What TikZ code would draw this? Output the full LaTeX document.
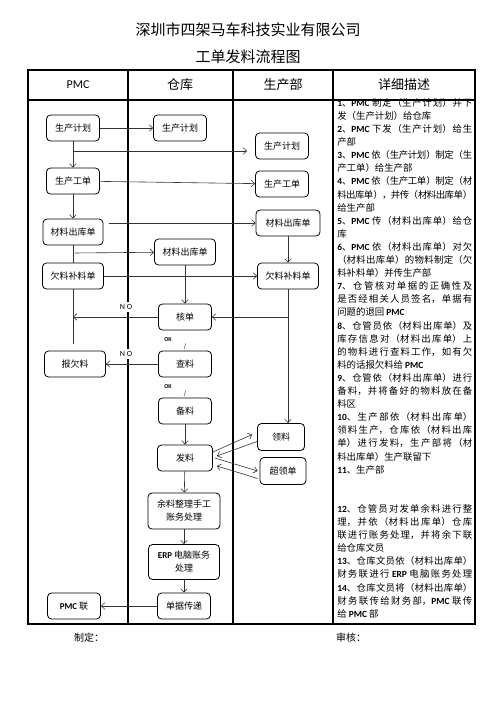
\documentclass[tikz,border=0pt]{standalone}
\usepackage{fontspec}
\setmainfont{Noto Sans CJK SC}
\newfontfamily\enf{Carlito}
\usetikzlibrary{arrows.meta}
\usetikzlibrary{calc,positioning}
% glue between Chinese characters, so that full lines can be justified
\newcount\cjkc
\cjkc="4E00
\loop
  \XeTeXcharclass\cjkc=7
  \advance\cjkc by 1
\ifnum\cjkc<"A000 \repeat
\XeTeXcharclass"FF08=8
\XeTeXcharclass"3001=9
\XeTeXcharclass"3002=9
\XeTeXcharclass"FF09=9
\XeTeXcharclass"FF0C=9
\XeTeXcharclass"FF1A=9
\newcommand\cg{\hskip0pt plus 3pt minus 0.8pt\relax}
\XeTeXinterchartokenstate=1
\XeTeXinterchartoks 7 7 = {\cg}
\XeTeXinterchartoks 7 8 = {\cg}
\XeTeXinterchartoks 9 7 = {\cg}
\XeTeXinterchartoks 9 8 = {\cg}
\XeTeXinterchartoks 9 9 = {\cg}
\newcommand\jl[1]{\hbox to 135pt{#1}}
\newcommand\pmc{{\enf\bfseries PMC}}
\newcommand\dg[1]{{\enf\bfseries #1}}

\begin{document}
\begin{tikzpicture}[->,>={Straight Barb[length=3.5pt,width=6.5pt]},semithick,x=1pt,y=-1pt,node distance=47pt]
		\tikzstyle{every node}=[font=\fontsize{9}{13}\selectfont]
		\tikzstyle{every edge}=[draw,black!80]
		\tikzstyle{box}=[draw=black,thick,rounded corners=4pt,minimum width=53pt,minimum height=26pt,inner sep=1pt,align=center]
		\tikzstyle{frame}=[-,line width=1.1pt]
		\tikzstyle{nolabel}=[font=\enf\fontsize{8}{8}\selectfont,fill=white,inner sep=2pt]
		\tikzstyle{oklabel}=[font=\enf\bfseries\fontsize{6}{6}\selectfont,inner sep=0pt]
		\tikzstyle{slash}=[font=\fontsize{6}{6}\selectfont,inner sep=0pt]
		\useasboundingbox (0,0) rectangle (496,702);
		% titles
		\node (t1) at (248,30) {\fontsize{15}{15}\selectfont 深圳市四架马车科技实业有限公司};
		\node (t2) at (248,57) {\fontsize{15}{15}\selectfont 工单发料流程图};
		% table
		\draw[frame] (28,70) rectangle (475,624);
		\draw[frame] (28,100) -- (475,100);
		\foreach \x in {128,233,333} \draw[frame] (\x,70) -- (\x,624);
		\node (h1) at (78,85)  {\enf\fontsize{12}{12}\selectfont PMC};
		\node (h2) at (180,85) {\fontsize{13}{13}\selectfont 仓库};
		\node (h3) at (283,85) {\fontsize{13}{13}\selectfont 生产部};
		\node (h4) at (404,85) {\fontsize{13}{13}\selectfont 详细描述};
		% flow
		\node[box] (pp1) at (73,128)  {生产计划};
		\node[box] (pp2) at (180,128) {生产计划};
		\node[box] (pp3) at (282,146) {生产计划};
		\node[box] (wo1) at (73,181)  {生产工单};
		\node[box] (wo3) at (282,184) {生产工单};
		\node[box,minimum width=60pt] (mo1) at (73,232)  {材料出库单};
		\node[box,minimum width=61pt] (mo2) at (185,252) {材料出库单};
		\node[box,minimum width=64pt] (mo3) at (288,223) {材料出库单};
		\node[box,minimum width=61pt] (ql1) at (73,276)  {欠料补料单};
		\node[box,minimum width=61pt] (ql3) at (288,276) {欠料补料单};
		\node[box] (hd) at (185,317) {核单};
		\node[box] (cl) [below of=hd] {查料};
		\node[box] (bl) [below of=cl] {备料};
		\node[box,minimum width=55pt] (fl) [below of=bl] {发料};
		\node[box,minimum width=61pt] (bql) at (75,364) {报欠料};
		\node[box,minimum width=47pt,minimum height=27pt] (ll)  at (281,437) {领料};
		\node[box,minimum width=46pt,minimum height=27pt] (cld) at (283,471) {超领单};
		\node[box,minimum width=72pt,minimum height=36pt] (yl)  at (184,511) {余料整理手工\\账务处理};
		\node[box,minimum width=71pt,minimum height=35pt] (erp) at (184,562) {{\enf\bfseries ERP} 电脑账务\\处理};
		\node[box] (dj) at (184,606) {单据传递};
		\node[box] (pl) at (74,606)  {{\enf\bfseries PMC} 联};
		\node[nolabel] (no1) at (126,307) {N O};
		\node[nolabel] (no2) at (126,354) {N O};
		\node[oklabel] (ok1) at (168,340) {OK};
		\node[oklabel] (ok2) at (168,387) {OK};
		\node[slash] (sl1) at (185,347) {/};
		\node[slash] (sl2) at (185,394) {/};
		\coordinate (b1) at (73,151);
		\coordinate (b2) at (73,253);
		\path
		(pp1) edge (pp2)
		(pp1) edge (wo1)
		(b1) edge[shorten >=8pt] (b1 -| pp3.west)
		(wo1) edge (wo3)
		(wo1) edge (mo1)
		(mo1.east |- mo3) edge[shorten <=6pt] (mo3)
		(mo1) edge[-] (ql1)
		(b2) edge[shorten <=2pt] (mo2)
		(ql1) edge (ql3)
		(mo3) edge (ql3)
		(mo2) edge (hd)
		(ql3.south) edge (ql3.south |- ll.north)
		(ql3.south |- hd) edge (hd)
		(hd) edge (hd -| ql1.south)
		(ql1) edge[-,shorten >=7pt] (ql1.south |- bql.north)
		(cl) edge (bql)
		(bl) edge (fl)
		([yshift=6pt]fl.east) edge ([xshift=-5pt,yshift=2.5pt]ll.west)
		([yshift=-4.5pt]ll.west) edge ([xshift=4pt,yshift=2pt]fl.east)
		([xshift=2pt]fl.east) edge ([xshift=-2pt]cld.west)
		([xshift=-2pt,yshift=-7.5pt]cld.west) edge ([xshift=4pt,yshift=-8pt]fl.east)
		(fl) edge (yl)
		(yl) edge (erp)
		(erp) edge (dj)
		(dj) edge (pl);
		% description
		\node[anchor=north west,align=left,inner sep=0pt,font=\fontsize{9.4}{13.1}\selectfont] (desc) at (337,98) {%
\jl{\dg{1}、\pmc{} 制定（生产计划）并下}\\
发（生产计划）给仓库\\
\jl{\dg{2}、\pmc{} 下发（生产计划）给生}\\
产部\\
\jl{\dg{3}、\pmc{} 依（生产计划）制定（生}\\
产工单）给生产部\\
\jl{\dg{4}、\pmc{} 依（生产工单）制定（材}\\
\jl{料出库单），并传（材料出库单）}\\
给生产部\\
\jl{\dg{5}、\pmc{} 传（材料出库单）给仓}\\
库\\
\jl{\dg{6}、\pmc{} 依（材料出库单）对欠}\\
\jl{（材料出库单）的物料制定（欠}\\
料补料单）并传生产部\\
\jl{\dg{7}、仓管核对单据的正确性及}\\
\jl{是否经相关人员签名，单据有}\\
问题的退回 \pmc\\
\jl{\dg{8}、仓管员依（材料出库单）及}\\
\jl{库存信息对（材料出库单）上}\\
\jl{的物料进行查料工作，如有欠}\\
料的话报欠料给 \pmc\\
\jl{\dg{9}、仓管依（材料出库单）进行}\\
\jl{备料，并将备好的物料放在备}\\
料区\\
\jl{\dg{10}、生产部依（材料出库单）}\\
\jl{领料生产，仓库依（材料出库}\\
\jl{单）进行发料，生产部将（材}\\
料出库单）生产联留下\\
\dg{11}、生产部\\[26.2pt]
\jl{\dg{12}、仓管员对发单余料进行整}\\
\jl{理，并依（材料出库单）仓库}\\
\jl{联进行账务处理，并将余下联}\\
给仓库文员\\
\jl{\dg{13}、仓库文员依（材料出库单）}\\
\jl{财务联进行 {\enf\bfseries ERP} 电脑账务处理}\\
\jl{\dg{14}、仓库文员将（材料出库单）}\\
\jl{财务联传给财务部，\pmc{} 联传}\\
给 \pmc{} 部};
		% footer
		\node (zd) at (89,638) {\fontsize{10}{10}\selectfont 制定：};
		\node (sh) at (351,638) {\fontsize{10}{10}\selectfont 审核：};
	\end{tikzpicture}
\end{document}
